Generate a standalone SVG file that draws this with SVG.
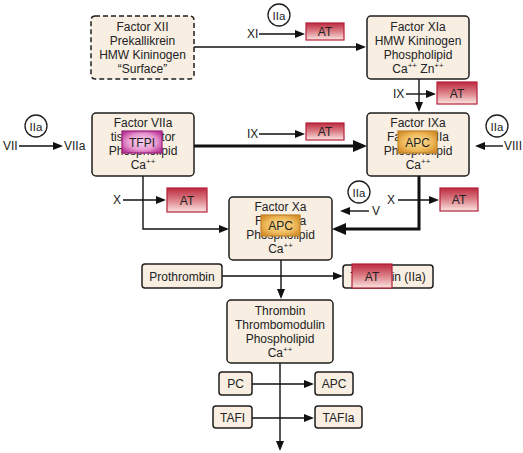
<svg xmlns="http://www.w3.org/2000/svg" width="523" height="453" viewBox="0 0 523 453">
<style>
text{font-family:"Liberation Sans",Arial,sans-serif;font-size:12px;fill:#222}
.c{text-anchor:middle}
.box{fill:#f8efe2;stroke:#1e1e1e;stroke-width:1.5}
.ln{fill:none;stroke:#111;stroke-width:1.4}
.tk{fill:none;stroke:#111;stroke-width:3}
.at{fill:url(#gAT);stroke:#b3203a;stroke-width:1.2}
.tfpi{fill:url(#gTF);stroke:#9c1f7c;stroke-width:1.2}
.apc{fill:url(#gAPC);stroke:#c08428;stroke-width:1.2}
.circ{fill:#fff;stroke:#1e1e1e;stroke-width:1.3}
.sup{font-size:8px}
</style>
<defs>
<linearGradient id="gAT" x1="0" y1="0" x2="0" y2="1">
<stop offset="0" stop-color="#bd2a3f"/>
<stop offset="0.5" stop-color="#dc8088"/>
<stop offset="1" stop-color="#fbe5e1"/>
</linearGradient>
<radialGradient id="gTF" cx="0.5" cy="0.5" r="0.6">
<stop offset="0" stop-color="#fad6f0"/>
<stop offset="0.6" stop-color="#e99ad2"/>
<stop offset="1" stop-color="#bd3a98"/>
</radialGradient>
<radialGradient id="gAPC" cx="0.5" cy="0.5" r="0.6">
<stop offset="0" stop-color="#f9dc98"/>
<stop offset="0.6" stop-color="#f0bc5e"/>
<stop offset="1" stop-color="#d58f2c"/>
</radialGradient>
<marker id="ah" markerWidth="10" markerHeight="8" refX="8" refY="4" orient="auto" markerUnits="userSpaceOnUse">
<path d="M0,0 L10,4 L0,8 z" fill="#111"/>
</marker>
<marker id="ahT" markerWidth="14" markerHeight="12" refX="10" refY="6" orient="auto" markerUnits="userSpaceOnUse">
<path d="M0,0 L14,6 L0,12 z" fill="#111"/>
</marker>
</defs>

<g id="connectors">
<!-- XII -> XIa -->
<line class="ln" x1="194" y1="47" x2="364" y2="47" marker-end="url(#ah)"/>
<!-- XI -> AT -->
<line class="ln" x1="259" y1="34" x2="303" y2="34" marker-end="url(#ah)"/>
<!-- XIa -> IXa -->
<line class="ln" x1="419" y1="79" x2="419" y2="110" marker-end="url(#ah)"/>
<!-- IX -> AT (top right) -->
<line class="ln" x1="406" y1="94" x2="434" y2="94" marker-end="url(#ah)"/>
<!-- VII -> VIIa -->
<line class="ln" x1="19" y1="146" x2="61" y2="146" marker-end="url(#ah)"/>
<!-- VIIa -> IXa thick -->
<line class="tk" x1="194" y1="146" x2="363" y2="146" marker-end="url(#ahT)"/>
<!-- IX -> AT (middle) -->
<line class="ln" x1="259" y1="134" x2="303" y2="134" marker-end="url(#ah)"/>
<!-- VIII -> IXa -->
<line class="ln" x1="503" y1="146" x2="477" y2="146" marker-end="url(#ah)"/>
<!-- IXa -> Xa thick -->
<polyline class="tk" points="419,176 419,229 336,229" marker-end="url(#ahT)"/>
<!-- X -> AT right -->
<line class="ln" x1="398" y1="200" x2="437" y2="200" marker-end="url(#ah)"/>
<!-- V -> Xa -->
<line class="ln" x1="369" y1="211" x2="342" y2="211" marker-end="url(#ah)"/>
<!-- VIIa -> Xa -->
<polyline class="ln" points="143,176 143,229 227,229" marker-end="url(#ah)"/>
<!-- X -> AT left -->
<line class="ln" x1="123" y1="200" x2="164" y2="200" marker-end="url(#ah)"/>
<!-- Prothrombin -> Thrombin -->
<line class="ln" x1="222" y1="276" x2="341" y2="276" marker-end="url(#ah)"/>
<!-- Xa -> Thrombin complex -->
<line class="ln" x1="281" y1="260" x2="281" y2="297" marker-end="url(#ah)"/>
<!-- Thrombin complex down -->
<line class="ln" x1="280" y1="363" x2="280" y2="449" marker-end="url(#ah)"/>
<!-- PC -> APC -->
<line class="ln" x1="252" y1="384" x2="312" y2="384" marker-end="url(#ah)"/>
<!-- TAFI -> TAFIa -->
<line class="ln" x1="252" y1="418" x2="312" y2="418" marker-end="url(#ah)"/>
</g>

<g id="labels">
<text x="247" y="38">XI</text>
<text x="393" y="98">IX</text>
<text x="3" y="150">VII</text>
<text x="64" y="150">VIIa</text>
<text x="247" y="138">IX</text>
<text x="504" y="150">VIII</text>
<text x="387" y="204">X</text>
<text x="372" y="215">V</text>
<text x="113" y="204">X</text>
</g>

<g id="iia-top"><circle class="circ" cx="279" cy="15" r="11"/><text class="c" x="279" y="19.5" style="font-size:11.5px">IIa</text></g>
<g id="iia-left"><circle class="circ" cx="36" cy="126" r="11"/><text class="c" x="36" y="130.5" style="font-size:11.5px">IIa</text></g>
<g id="iia-right"><circle class="circ" cx="497" cy="126" r="11"/><text class="c" x="497" y="130.5" style="font-size:11.5px">IIa</text></g>
<g id="iia-mid"><circle class="circ" cx="359" cy="192" r="11"/><text class="c" x="359" y="196.5" style="font-size:11.5px">IIa</text></g>

<g id="factor-xii">
<rect class="box" x="91" y="16" width="103" height="63" rx="4" stroke-dasharray="5,3"/>
<text class="c" x="142.5" y="31">Factor XII</text>
<text class="c" x="142.5" y="45">Prekallikrein</text>
<text class="c" x="142.5" y="59">HMW Kininogen</text>
<text class="c" x="142.5" y="73">“Surface”</text>
</g>

<g id="at-xi"><rect class="at" x="306" y="23" width="38" height="17"/><text class="c" x="325" y="36">AT</text></g>

<g id="factor-xia">
<rect class="box" x="367" y="16" width="102" height="63" rx="4"/>
<text class="c" x="418" y="31">Factor XIa</text>
<text class="c" x="418" y="45">HMW Kininogen</text>
<text class="c" x="418" y="59">Phospholipid</text>
<text class="c" x="418" y="73">Ca<tspan class="sup" dy="-5">++</tspan><tspan dy="5"> Zn</tspan><tspan class="sup" dy="-5">++</tspan></text>
</g>

<g id="at-ix-top"><rect class="at" x="437" y="82" width="40" height="22"/><text class="c" x="457" y="97.5">AT</text></g>

<g id="factor-viia">
<rect class="box" x="92" y="113" width="102" height="63" rx="4"/>
<text class="c" x="143" y="127">Factor VIIa</text>
<text class="c" x="143" y="141">tissue factor</text>
<text class="c" x="143" y="155">Phospholipid</text>
<text class="c" x="143" y="169">Ca<tspan class="sup" dy="-5">++</tspan></text>
<rect class="tfpi" x="122" y="131" width="40" height="22"/>
<text class="c" x="142" y="146.5">TFPI</text>
</g>

<g id="at-ix-mid"><rect class="at" x="306" y="123" width="38" height="17"/><text class="c" x="325" y="136">AT</text></g>

<g id="factor-ixa">
<rect class="box" x="367" y="113" width="102" height="63" rx="4"/>
<text class="c" x="418" y="127">Factor IXa</text>
<text class="c" x="418" y="141">Factor VIIIa</text>
<text class="c" x="418" y="155">Phospholipid</text>
<text class="c" x="418" y="169">Ca<tspan class="sup" dy="-5">++</tspan></text>
<rect class="apc" x="398" y="131" width="39" height="22"/>
<text class="c" x="417.5" y="146.5">APC</text>
</g>

<g id="at-x-left"><rect class="at" x="167" y="188" width="40" height="24"/><text class="c" x="187" y="204.5">AT</text></g>
<g id="at-x-right"><rect class="at" x="440" y="188" width="38" height="23"/><text class="c" x="459" y="204">AT</text></g>

<g id="factor-xa">
<rect class="box" x="229" y="197" width="103" height="63" rx="4"/>
<text class="c" x="280.5" y="211">Factor Xa</text>
<text class="c" x="280.5" y="225">Factor Va</text>
<text class="c" x="280.5" y="239">Phospholipid</text>
<text class="c" x="280.5" y="253">Ca<tspan class="sup" dy="-5">++</tspan></text>
<rect class="apc" x="261" y="215" width="39" height="21"/>
<text class="c" x="280.5" y="230">APC</text>
</g>

<g id="prothrombin">
<rect class="box" x="142" y="264" width="80" height="24" rx="3"/>
<text class="c" x="182" y="281">Prothrombin</text>
</g>

<g id="thrombin">
<rect class="box" x="343" y="265" width="90" height="23" rx="3"/>
<text class="c" x="388" y="281">Thrombin (IIa)</text>
<rect class="at" x="352" y="264" width="40" height="24"/>
<text class="c" x="372" y="281">AT</text>
</g>

<g id="thrombin-complex">
<rect class="box" x="227" y="300" width="106" height="63" rx="4"/>
<text class="c" x="280" y="315">Thrombin</text>
<text class="c" x="280" y="329">Thrombomodulin</text>
<text class="c" x="280" y="343">Phospholipid</text>
<text class="c" x="280" y="357">Ca<tspan class="sup" dy="-5">++</tspan></text>
</g>

<g id="pc"><rect class="box" x="219" y="372" width="33" height="23" rx="3"/><text class="c" x="235.5" y="388">PC</text></g>
<g id="apc"><rect class="box" x="315" y="372" width="38" height="23" rx="3"/><text class="c" x="334" y="388">APC</text></g>
<g id="tafi"><rect class="box" x="213" y="406" width="39" height="22" rx="3"/><text class="c" x="232.5" y="422">TAFI</text></g>
<g id="tafia"><rect class="box" x="315" y="406" width="47" height="22" rx="3"/><text class="c" x="338.5" y="422">TAFIa</text></g>
</svg>
